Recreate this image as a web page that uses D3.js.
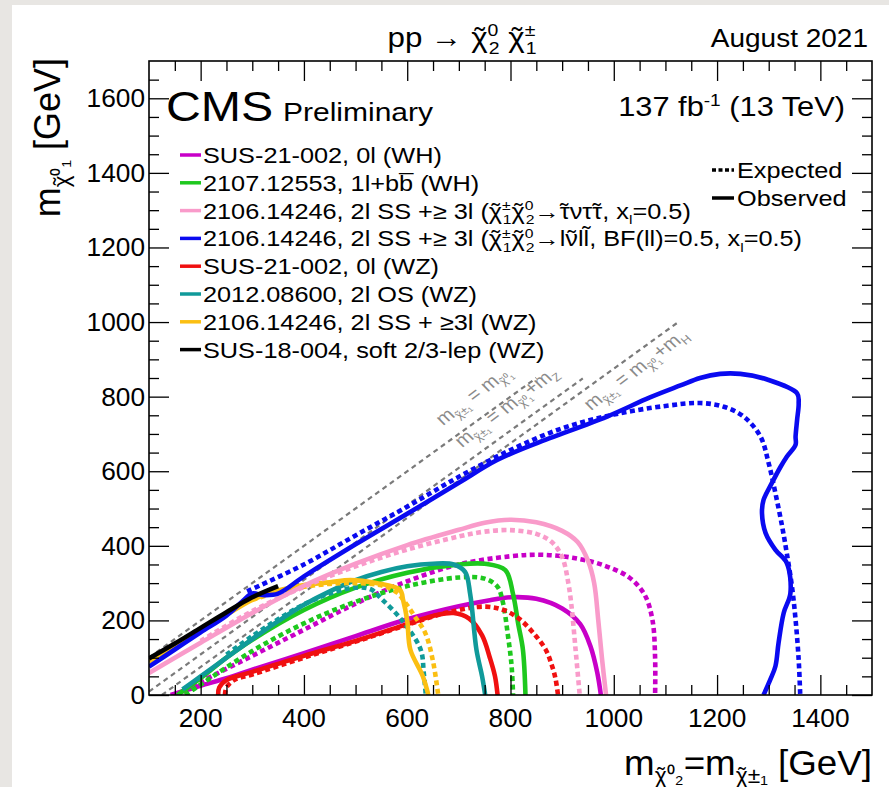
<!DOCTYPE html>
<html>
<head>
<meta charset="utf-8">
<script src="https://cdn.jsdelivr.net/npm/d3@7"></script>
<style>
  body { margin: 0; background: #fff; }
  svg { display: block; }
  text { font-family: "Liberation Sans", Arial, Helvetica, sans-serif; }
</style>
</head>
<body>
<div id="chart"></div>
<script>
// ---- data (GeV) ----
const xTicks = [200, 400, 600, 800, 1000, 1200, 1400];
const yTicks = [0, 200, 400, 600, 800, 1000, 1200, 1400, 1600];

// SUS-21-002, 0l (WH)
const whHadObs = [[142,0],[165,10],[200,25],[250,45],[300,68],[400,112],[500,158],[600,203],[700,238],[760,254],[800,262],[850,258],[900,232],[935,190],[955,130],[968,60],[975,0]];
const whHadExp = [[155,0],[200,35],[300,105],[400,175],[500,245],[600,305],[700,350],[800,372],[860,376],[920,368],[980,348],[1030,315],[1060,268],[1075,200],[1080,100],[1080,0]];
// 2107.12553, 1l+bb (WH)
const wh1lObs = [[155,0],[175,20],[200,45],[250,100],[300,148],[400,228],[500,288],[600,328],[700,350],[750,352],[790,335],[805,270],[815,190],[824,122],[829,0]];
const wh1lExp = [[170,0],[200,28],[300,118],[400,192],[500,250],[600,292],[700,315],[750,312],[775,290],[785,250],[795,160],[802,80],[805,0]];
// 2106.14246, tau-enriched
const tauObs = [[100,59],[200,140],[300,220],[400,293],[500,352],[600,402],[700,443],[750,462],[800,470],[850,463],[900,440],[930,410],[950,360],[962,300],[970,200],[977,100],[985,0]];
const tauExp = [[200,145],[300,225],[400,290],[500,345],[600,390],[700,425],[750,438],[800,442],[850,432],[880,410],[900,370],[912,300],[918,240],[926,122],[934,0]];
// 2106.14246, flavour-democratic
const flavObs = [[100,76],[150,122],[200,168],[250,213],[280,250],[300,272],[320,268],[350,272],[400,318],[500,404],[600,486],[700,569],[774,630],[850,675],[986,746],[1070,798],[1129,830],[1167,850],[1206,861],[1245,861],[1297,846],[1355,809],[1358,782],[1355,738],[1352,693],[1352,671],[1335,639],[1323,612],[1306,568],[1290,523],[1287,487],[1294,434],[1313,389],[1335,354],[1342,273],[1329,220],[1319,139],[1313,77],[1303,41],[1290,0]];
const flavExp = [[290,278],[400,350],[500,428],[600,505],[700,585],[800,657],[900,715],[1000,752],[1100,775],[1167,783],[1213,773],[1252,746],[1284,693],[1300,621],[1313,541],[1326,452],[1335,380],[1345,291],[1352,202],[1358,95],[1361,0]];
// SUS-21-002, 0l (WZ)
const wzHadObs = [[234,0],[236,20],[250,40],[300,62],[400,105],[500,145],[600,190],[650,212],[690,220],[720,205],[745,160],[760,100],[770,50],[775,0]];
const wzHadExp = [[247,0],[250,20],[265,40],[300,55],[400,100],[500,143],[600,188],[680,222],[752,237],[790,226],[819,202],[845,165],[868,122],[880,80],[887,45],[892,0]];
// 2012.08600, 2l OS (WZ)
const osObs = [[165,15],[200,50],[250,100],[300,150],[350,198],[400,242],[450,278],[500,308],[550,330],[600,345],[650,352],[690,350],[712,330],[722,270],[734,122],[745,50],[751,0]];
const osExp = [[250,108],[300,158],[350,203],[400,243],[450,272],[500,288],[530,283],[550,258],[590,200],[626,122],[632,60],[636,0]];
// 2106.14246, 2l SS + >=3l (WZ)
const ssObs = [[100,90],[150,133],[200,175],[250,215],[300,255],[350,280],[400,295],[450,302],[490,308],[540,300],[586,282],[592,255],[600,200],[606,122],[630,51],[641,0]];
const ssExp = [[300,255],[350,276],[400,290],[450,298],[500,300],[550,294],[580,275],[595,250],[615,210],[635,166],[650,90],[660,0]];
// SUS-18-004, soft 2/3-lep (WZ)
const softObs = [[100,98],[150,138],[200,180],[250,222],[300,262],[350,292]];

// diagonal kinematic lines: offset (GeV) and x range
const diagOffsets = [0, 91, 125];
const diagRanges = [[100, 850], [100, 940], [125, 1125]];

const CHI = "\u03C7\u0303";
const legendLabels = [
  ["SUS-21-002, 0l (WH)"],
  ["2107.12553, 1l+bb\u0305 (WH)"],
  ["2106.14246, 2l SS +\u2265 3l (", CHI, {sup:"\u00B1", sub:"1"}, CHI, {sup:"0", sub:"2"}, "\u2192\u03C4\u0303\u03BD\u03C4\u03C4\u0303, x", {sub:"l"}, "=0.5)"],
  ["2106.14246, 2l SS +\u2265 3l (", CHI, {sup:"\u00B1", sub:"1"}, CHI, {sup:"0", sub:"2"}, "\u2192l\u03BD\u0303ll\u0303, BF(ll)=0.5, x", {sub:"l"}, "=0.5)"],
  ["SUS-21-002, 0l (WZ)"],
  ["2012.08600, 2l OS (WZ)"],
  ["2106.14246, 2l SS + \u22653l (WZ)"],
  ["SUS-18-004, soft 2/3-lep (WZ)"]
];
const colors = ["#c800c8", "#1ec81e", "#f99bca", "#0a0af0", "#f01010", "#109a9a", "#fbbf12", "#000000"];
const observed = [whHadObs, wh1lObs, tauObs, flavObs, wzHadObs, osObs, ssObs, softObs];
const expected = [whHadExp, wh1lExp, tauExp, flavExp, wzHadExp, osExp, ssExp, null];

// ---- layout ----
const W = 889, H = 787;
const svg = d3.select("#chart").append("svg").attr("width", W).attr("height", H);
const x = d3.scaleLinear().domain([100, 1500]).range([149, 872]);
const y = d3.scaleLinear().domain([0, 1700]).range([695, 61]);

// grey page edge like the screenshot
svg.append("rect").attr("width", W).attr("height", H).attr("fill", "#fff");
svg.append("rect").attr("width", 12).attr("height", H).attr("fill", "#e8e6e3");
svg.append("rect").attr("width", W).attr("height", 5).attr("fill", "#e8e6e3");

// letter widths (em) used to centre a tilde over a letter
const charW = {"\u03C7": 0.5, "\u03C4": 0.44, "\u03BD": 0.5, "l": 0.222};

// tiny rich-text helper: strings, {sup}, {sub}, {sup, sub} stacked; "X\u0303" gets a tilde on top
function rich(t, segs, fs) {
  let cur = 0, pending = 0;
  function emit(str, off, size, dx) {
    const ts = t.append("tspan").text(str).attr("dy", off - cur).attr("font-size", size);
    const d = (dx || 0) + pending;
    pending = 0;
    if (d) ts.attr("dx", d);
    cur = off;
  }
  function add(str, off, size, dx) {
    str.split(/(.\u0303)/u).filter(p => p !== "").forEach(p => {
      if (p.length === 2 && p[1] === "\u0303") {
        const w = charW[p[0]] || 0.5;
        emit(p[0], off, size, dx);
        dx = null;
        emit("\u02DC", off - (p[0] === "l" ? 0.2 * size : 0), size, -(w + 0.333) / 2 * size);
        pending = (w - 0.333) / 2 * size;
      } else {
        emit(p, off, size, dx);
        dx = null;
      }
    });
  }
  const small = fs * 0.62;
  segs.forEach(s => {
    if (typeof s === "string") add(s, 0, fs);
    else if (s.sup != null && s.sub != null) {
      add(s.sup, -0.38 * fs, small);
      add(s.sub, 0.24 * fs, small, -0.5 * small * s.sup.length);
    } else if (s.sup != null) add(s.sup, -0.38 * fs, small);
    else add(s.sub, 0.24 * fs, small);
  });
}

function label(g, px, py, segs, fs, o = {}) {
  const tr = `translate(${px},${py}) scale(${o.sx || 1.1},1)` + (o.rot ? ` rotate(${o.rot})` : "");
  const t = g.append("text").attr("transform", tr).attr("font-size", fs)
    .attr("text-anchor", o.anchor || "start").attr("fill", o.fill || "#000");
  rich(t, segs, fs);
  return t;
}

const plot = svg.append("g");

// kinematic lines
const line = d3.line().x(d => x(d[0])).y(d => y(d[1]));
diagOffsets.forEach((off, i) => {
  const r = diagRanges[i];
  plot.append("path")
    .attr("d", line([[r[0], r[0] - off], [r[1], r[1] - off]]))
    .attr("fill", "none").attr("stroke", "#7a7a7a").attr("stroke-width", 2.2)
    .attr("stroke-dasharray", "5,4");
});
const grey = "#8a8a8a";
const mC = ["m", {sub: CHI + "\u00B1\u2081"}, " = m", {sub: CHI + "\u2070\u2081"}];
label(plot, 443, 426, mC, 18, {rot: -41, fill: grey, sx: 1.15});
label(plot, 462, 448, mC.concat(["+m", {sub: "Z"}]), 18, {rot: -41, fill: grey, sx: 1.15});
label(plot, 591, 411, mC.concat(["+m", {sub: "H"}]), 18, {rot: -41, fill: grey, sx: 1.15});

// contours
const curve = d3.line().x(d => x(d[0])).y(d => y(d[1])).curve(d3.curveCatmullRom.alpha(0.5));
svg.append("clipPath").attr("id", "frame").append("rect")
  .attr("x", 149).attr("y", 61).attr("width", 723).attr("height", 634);
const curves = plot.append("g").attr("clip-path", "url(#frame)");
const order = [0, 1, 4, 5, 6, 2, 3, 7];
order.forEach(i => {
  if (expected[i]) {
    curves.append("path").attr("d", curve(expected[i]))
      .attr("fill", "none").attr("stroke", colors[i]).attr("stroke-width", 4.6)
      .attr("stroke-dasharray", "5,3.5");
  }
  curves.append("path").attr("d", curve(observed[i]))
    .attr("fill", "none").attr("stroke", colors[i]).attr("stroke-width", 4.6)
    .attr("stroke-linejoin", "round");
});

// axes: ticks pointing into the frame
const xMinor = d3.range(150, 1500, 50).filter(v => v % 200 !== 0);
const yMinor = d3.range(50, 1700, 50).filter(v => v % 200 !== 0);
function ticks(axis, vals, size, tx, ty) {
  const g = svg.append("g").attr("transform", `translate(${tx},${ty})`)
    .call(axis.tickValues(vals).tickSize(size).tickFormat(""));
  g.select(".domain").remove();
  g.selectAll(".tick line").attr("stroke", "#000").attr("stroke-width", 1.3);
  return g;
}
ticks(d3.axisBottom(x), xTicks, -20, 0, 695);
ticks(d3.axisBottom(x), xMinor, -10, 0, 695);
ticks(d3.axisTop(x), xTicks, -20, 0, 61);
ticks(d3.axisTop(x), xMinor, -10, 0, 61);
ticks(d3.axisLeft(y), yTicks, -20, 149, 0);
ticks(d3.axisLeft(y), yMinor, -10, 149, 0);
ticks(d3.axisRight(y), yTicks, -20, 872, 0);
ticks(d3.axisRight(y), yMinor, -10, 872, 0);

xTicks.forEach(v => label(svg, x(v), 727, [String(v)], 25, {anchor: "middle", sx: 1.05}));
yTicks.forEach(v => label(svg, 145, y(v) + 9, [String(v)], 25, {anchor: "end", sx: 1.05}));

svg.append("rect").attr("x", 149).attr("y", 61).attr("width", 723).attr("height", 634)
  .attr("fill", "none").attr("stroke", "#000").attr("stroke-width", 1.6);

// titles
label(svg, 462, 47, ["pp \u2192 ", CHI, {sup:"0", sub:"2"}, " ", CHI, {sup:"\u00B1", sub:"1"}], 28, {anchor: "middle", sx: 1.12});
label(svg, 868, 47, ["August 2021"], 25, {anchor: "end", sx: 1.12});
label(svg, 872, 775, ["m", {sub: CHI + "\u2070\u2082"}, "=m", {sub: CHI + "\u00B1\u2081"}, " [GeV]"], 35, {anchor: "end", sx: 1.05});
label(svg, 60, 58, ["m", {sub: CHI + "\u2070\u2081"}, " [GeV]"], 36, {anchor: "end", sx: 1, rot: -90});

label(svg, 166, 121, ["CMS"], 42, {sx: 1.15});
label(svg, 283, 121, ["Preliminary"], 25, {sx: 1.2});
label(svg, 845, 116, ["137 fb", {sup: "-1"}, " (13 TeV)"], 27, {anchor: "end", sx: 1.14});

// legend
const leg = svg.append("g");
legendLabels.forEach((segs, i) => {
  const cy = 155 + i * 27.8;
  leg.append("line").attr("x1", 180).attr("x2", 201).attr("y1", cy).attr("y2", cy)
    .attr("stroke", colors[i]).attr("stroke-width", 3.5);
  label(leg, 203, cy + 8, segs, 22, {sx: 1.15});
});
[["Expected", "4,2.5"], ["Observed", null]].forEach((d, i) => {
  const cy = 170 + i * 28;
  const l = leg.append("line").attr("x1", 712).attr("x2", 734).attr("y1", cy).attr("y2", cy)
    .attr("stroke", "#000").attr("stroke-width", 3.5);
  if (d[1]) l.attr("stroke-dasharray", d[1]);
  label(leg, 737, cy + 8, [d[0]], 22, {sx: 1.15});
});
</script>
</body>
</html>
